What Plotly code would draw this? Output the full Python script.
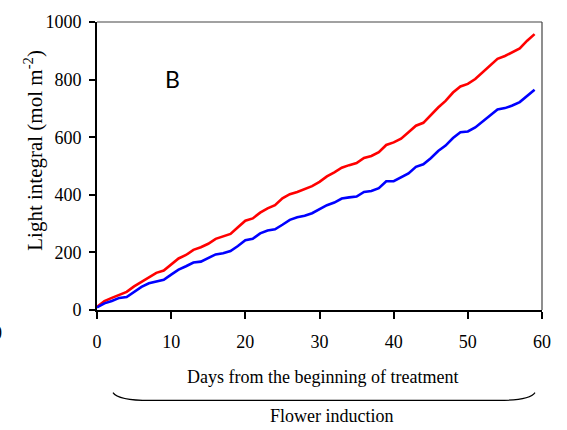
import plotly.graph_objects as go

# Daily cumulative light integral (mol m-2) for the two treatments
days = list(range(0, 60))
light_high = [11, 31, 42, 53, 63, 82, 98, 114, 129, 137,
              157, 179, 191, 209, 218, 230, 247, 255, 264, 287,
              310, 318, 338, 353, 364, 388, 402, 410, 420, 430,
              445, 464, 478, 494, 503, 510, 528, 535, 548, 573,
              582, 595, 617, 640, 650, 677, 703, 726, 755, 776,
              785, 802, 825, 847, 872, 882, 895, 908, 935, 958]
light_low = [9, 23, 31, 42, 45, 63, 80, 93, 100, 105,
             123, 140, 152, 165, 168, 180, 193, 197, 205, 222,
             242, 247, 266, 276, 280, 296, 313, 322, 327, 336,
             349, 364, 373, 387, 391, 394, 410, 413, 423, 447,
             447, 461, 474, 497, 506, 527, 552, 571, 597, 617,
             620, 634, 654, 675, 696, 701, 710, 722, 745, 765]

x_ticks = [0, 10, 20, 30, 40, 50, 60]
y_ticks = [0, 200, 400, 600, 800, 1000]

W, H = 567, 430
L, R, T, B = 97, 25, 17, 120
PW, PH = W - L - R, H - T - B

SERIF = "Liberation Serif"


def px(xp):
    return (xp - L) / PW


def py(yp):
    return (H - B - yp) / PH


fig = go.Figure()
fig.add_trace(go.Scatter(x=days, y=light_high, mode="lines",
                         line=dict(color="#ff0000", width=2.6), showlegend=False))
fig.add_trace(go.Scatter(x=days, y=light_low, mode="lines",
                         line=dict(color="#0000ff", width=2.6), showlegend=False))

fig.update_layout(
    width=W, height=H,
    margin=dict(l=L, r=R, t=T, b=B),
    paper_bgcolor="white", plot_bgcolor="white",
    font=dict(family=SERIF, color="black"),
    xaxis=dict(range=[0, 60], tickvals=x_ticks, ticks="outside", ticklen=7,
               tickwidth=1.5, tickcolor="black", showline=True, linecolor="black",
               linewidth=2, showgrid=False, zeroline=False,
               tickfont=dict(family=SERIF, size=18, color="black"),
               ticklabelstandoff=7),
    yaxis=dict(range=[0, 1000], tickvals=y_ticks, ticks="outside", ticklen=6,
               tickwidth=1.5, tickcolor="black", showline=True, linecolor="black",
               linewidth=2, showgrid=False, zeroline=False,
               tickfont=dict(family=SERIF, size=18, color="black"),
               ticklabelstandoff=4),
)

# thin frame on the top and right edges
fig.add_shape(type="line", xref="paper", yref="paper", x0=0, x1=1, y0=1, y1=1,
              line=dict(color="#444444", width=1.2))
fig.add_shape(type="line", xref="paper", yref="paper", x0=1, x1=1, y0=0, y1=1,
              line=dict(color="#444444", width=1.2))

# brace under the axis title
x0, x1, xm0, xm1 = px(113), px(535), px(150), px(498)
ytop, ybot = py(394), py(402)
path = (f"M {x0},{ytop} Q {px(118)},{ybot} {xm0},{ybot} "
        f"L {xm1},{ybot} Q {px(530)},{ybot} {x1},{ytop}")
fig.add_shape(type="path", xref="paper", yref="paper", path=path,
              line=dict(color="black", width=1.2))

annos = [
    dict(text="Light integral (mol m<sup>-2</sup>)", x=px(34), y=py(148),
         textangle=-90, font=dict(family=SERIF, size=21, color="black")),
    dict(text="Days from the beginning of treatment", x=px(322), y=py(378),
         font=dict(family=SERIF, size=18, color="black")),
    dict(text="Flower induction", x=px(332), y=py(418),
         font=dict(family=SERIF, size=18, color="black")),
    dict(text="B", x=px(172), y=py(75),
         font=dict(family="Lato", size=23, color="black")),
    dict(text="0", x=px(4), y=py(333), xanchor="right",
         font=dict(family=SERIF, size=18, color="black")),
]
for a in annos:
    a.setdefault("xanchor", "center")
    fig.add_annotation(xref="paper", yref="paper", yanchor="middle",
                       showarrow=False, **a)

fig.write_html("out.html")
